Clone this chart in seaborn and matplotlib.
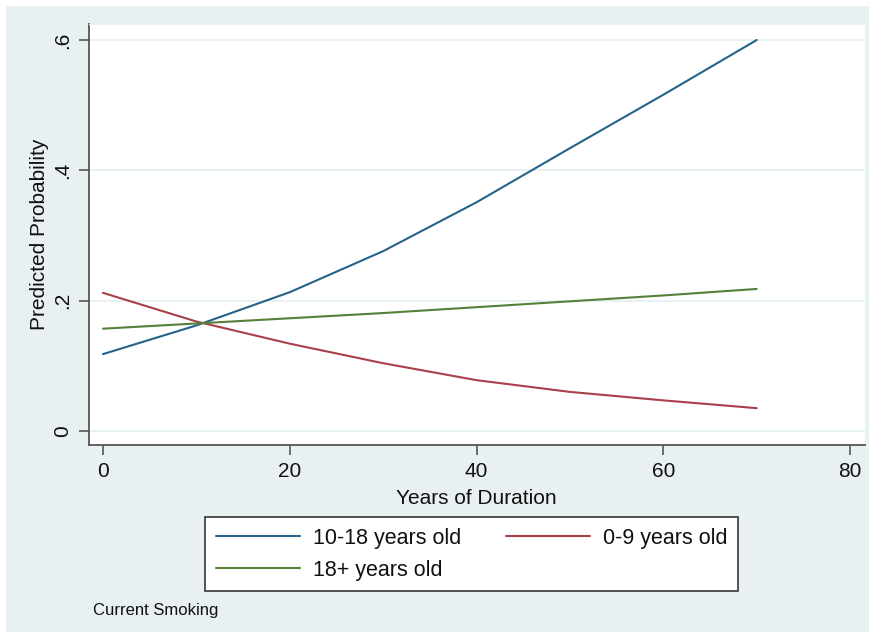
import numpy as np
import pandas as pd
import matplotlib
matplotlib.use('Agg')
import matplotlib.pyplot as plt
from matplotlib.patches import Rectangle
from matplotlib.lines import Line2D
import seaborn as sns

# Data
years = [0, 10, 20, 30, 40, 50, 60, 70]
age_10_18 = [0.118, 0.162, 0.213, 0.276, 0.351, 0.434, 0.516, 0.600]
age_0_9 = [0.212, 0.168, 0.134, 0.104, 0.078, 0.060, 0.047, 0.035]
age_18_plus = [0.157, 0.165, 0.173, 0.181, 0.190, 0.199, 0.208, 0.218]

groups = ['10-18 years old', '0-9 years old', '18+ years old']
palette = {'10-18 years old': '#24628A',
           '0-9 years old': '#A8404A',
           '18+ years old': '#55803A'}

df = pd.concat([
    pd.DataFrame({'years': years, 'prob': age_10_18, 'group': groups[0]}),
    pd.DataFrame({'years': years, 'prob': age_0_9, 'group': groups[1]}),
    pd.DataFrame({'years': years, 'prob': age_18_plus, 'group': groups[2]}),
])

sns.set_style('white')
plt.rcParams['font.family'] = ['Liberation Sans', 'DejaVu Sans']

W, H = 869, 633
fig = plt.figure(figsize=(W / 100, H / 100), dpi=100, facecolor='white')
bg = '#E8F0F2'
fig.patches.append(Rectangle((6 / W, 1 / H), 1 - 6 / W, 1 - 7 / H,
                             transform=fig.transFigure, facecolor=bg,
                             edgecolor='none', zorder=-10))

ax = fig.add_axes([89 / W, (H - 445) / H, (865 - 89) / W, (445 - 24) / H])
ax.set_facecolor('white')

sns.lineplot(data=df, x='years', y='prob', hue='group', palette=palette,
             hue_order=groups, linewidth=1.5, legend=False, ax=ax)

ax.set_xlim(-1.5, 81.6)
ax.set_ylim(-0.0215, 0.6246)
ax.set_xticks([0, 20, 40, 60, 80])
ax.set_yticks([0, 0.2, 0.4, 0.6])
ax.set_yticklabels(['0', '.2', '.4', '.6'])
ax.yaxis.grid(True, color='#E3EEF0', linewidth=1.2)
ax.set_axisbelow(True)

for side in ['top', 'right']:
    ax.spines[side].set_color('#EAF1F3')
for side in ['left', 'bottom']:
    ax.spines[side].set_color('#555555')
    ax.spines[side].set_linewidth(1.3)

ax.tick_params(axis='both', direction='out', length=7, width=1.2,
               color='#555555', labelsize=15, labelcolor='#111111',
               bottom=True, left=True)
ax.tick_params(axis='x', pad=5)
ax.tick_params(axis='y', pad=5)
for lbl in ax.get_yticklabels():
    lbl.set_rotation(90)
    lbl.set_va('center')

ax.set_xlabel('Years of Duration', fontsize=15, color='#111111')
ax.set_ylabel('Predicted Probability', fontsize=15, color='#111111')
ax.xaxis.set_label_coords(0.499, -0.104)
ax.yaxis.set_label_coords(-0.052, 0.5)

handles = [Line2D([], [], color=palette[g], linewidth=1.5) for g in groups]
# column-first fill: put 18+ second so it lands in row 2 of column 1
order = [0, 2, 1]
leg = fig.legend([handles[i] for i in order], [groups[i] for i in order],
                 ncol=2, loc='upper left',
                 bbox_to_anchor=(205 / W, 1 - 517 / H),
                 bbox_transform=fig.transFigure,
                 fontsize=15.5, frameon=True, fancybox=False, framealpha=1,
                 handlelength=3.9, handletextpad=0.6, columnspacing=2.1,
                 borderpad=0.5, labelspacing=0.5, borderaxespad=0)
for t in leg.get_texts():
    t.set_color('#111111')
leg.get_frame().set_edgecolor('#444444')
leg.get_frame().set_linewidth(1.3)
leg.get_frame().set_facecolor('white')

fig.text(93 / W, 1 - 611 / H, 'Current Smoking', fontsize=12,
         va='center', ha='left', color='#111111')

fig.savefig('out.png', dpi=100, facecolor=fig.get_facecolor())
